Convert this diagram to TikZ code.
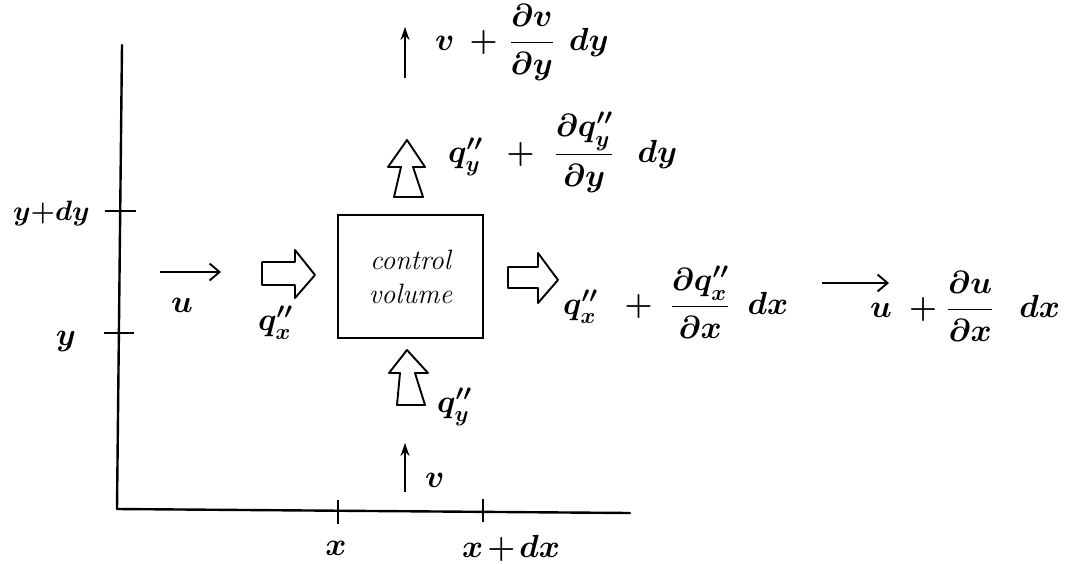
\RequirePackage{fix-cm}
\documentclass[tikz,border=0pt]{standalone}
\usepackage{amsmath}
\usepackage{fontspec}
\usetikzlibrary{arrows.meta}
\begin{document}
\begin{tikzpicture}[x=1pt,y=-1pt,
  axis/.style={line width=2.4pt, line cap=round, line join=round},
  tickmark/.style={line width=2.2pt},
  blockarrow/.style={draw, line width=1.9pt, line join=round, fill=white},
  varrow/.style={line width=1.9pt, -{Stealth[length=13pt,width=9pt]}},
  harrow/.style={line width=1.9pt, -{Straight Barb[length=10pt,width=17pt]}},
  lab/.style={inner sep=0pt, font=\fontsize{32}{38}\selectfont\boldmath},
  smalllab/.style={inner sep=0pt, font=\fontsize{28}{34}\selectfont\boldmath},
  cvbox/.style={draw, line width=2pt, minimum width=145pt, minimum height=123pt,
    align=center, inner sep=0pt, font=\fontsize{28}{34}\selectfont\itshape}
]
\useasboundingbox (0,0) rectangle (1065,563);

% axes
\coordinate (ytop) at (122,45);
\coordinate (orig) at (117,509);
\coordinate (xend) at (630,513);
\draw[axis] (ytop) -- (orig) -- (xend);

% ticks
\coordinate (t1a) at (105,211); \coordinate (t1b) at (136,211);
\coordinate (t2a) at (104,333); \coordinate (t2b) at (134,333);
\coordinate (t3a) at (338,500); \coordinate (t3b) at (338,524);
\coordinate (t4a) at (483,499); \coordinate (t4b) at (483,522);
\draw[tickmark] (t1a) -- (t1b);
\draw[tickmark] (t2a) -- (t2b);
\draw[tickmark] (t3a) -- (t3b);
\draw[tickmark] (t4a) -- (t4b);

% axis labels
\node[smalllab, anchor=base east] (lydy) at (90,220) {$y{+}dy$};
\node[lab, anchor=base] (ly) at (66,345) {$y$};
\node[lab, anchor=base] (lx) at (336,555) {$x$};
\node[lab, anchor=base west] (lxdx) at (462,557) {$x\mkern2mu{+}\mkern2mu dx$};

% control volume
\node[cvbox] (cv) at (410.5,276.5) {control\\volume};

% block arrows
\draw[blockarrow] (262,262) -- (295,262) -- (295,250) -- (315,275) -- (295,298) -- (295,285) -- (262,285) -- cycle;
\draw[blockarrow] (508,267) -- (538,267) -- (538,253) -- (558,280) -- (538,303) -- (538,288) -- (508,288) -- cycle;
\draw[blockarrow] (394,197) -- (401,167) -- (388,167) -- (407,140) -- (425,167) -- (413,167) -- (423,197) -- cycle;
\draw[blockarrow] (397,405) -- (400,373) -- (389,373) -- (407,350) -- (428,373) -- (415,373) -- (425,405) -- cycle;

% thin velocity arrows
\coordinate (vtS) at (405,78);  \coordinate (vtE) at (405,27);
\coordinate (vbS) at (405,492); \coordinate (vbE) at (405,443);
\coordinate (ulS) at (160,272); \coordinate (ulE) at (221,272);
\coordinate (urS) at (822,283); \coordinate (urE) at (889,283);
\draw[varrow] (vtS) -- (vtE);
\draw[varrow] (vbS) -- (vbE);
\draw[harrow] (ulS) -- (ulE);
\draw[harrow] (urS) -- (urE);

% labels
\node[lab, anchor=base west] (e1) at (435,50)
  {$v\hspace{15pt}{+}\hspace{12pt}\dfrac{\partial v}{\partial y}\hspace{15pt}dy$};
\node[lab, anchor=base west] (e2) at (448,162)
  {$q''_y\hspace{24pt}{+}\hspace{20pt}\dfrac{\partial q''_y}{\partial y}\hspace{24pt}dy$};
\node[lab, anchor=base west] (e3) at (563,314)
  {$q''_x\hspace{27pt}{+}\hspace{18pt}\dfrac{\partial q''_x}{\partial x}\hspace{18pt}dx$};
\node[lab, anchor=base west] (e4) at (870,317)
  {$u\hspace{17pt}{+}\hspace{10pt}\dfrac{\partial u}{\partial x}\hspace{26pt}dx$};

\node[lab, anchor=base] (lu) at (182,312) {$u$};
\node[lab, anchor=base west] (lqx) at (258,330) {$q''_x$};
\node[lab, anchor=base west] (lqy) at (437,412) {$q''_y$};
\node[lab, anchor=base west] (lv) at (425,487) {$v$};
\end{tikzpicture}
\end{document}
